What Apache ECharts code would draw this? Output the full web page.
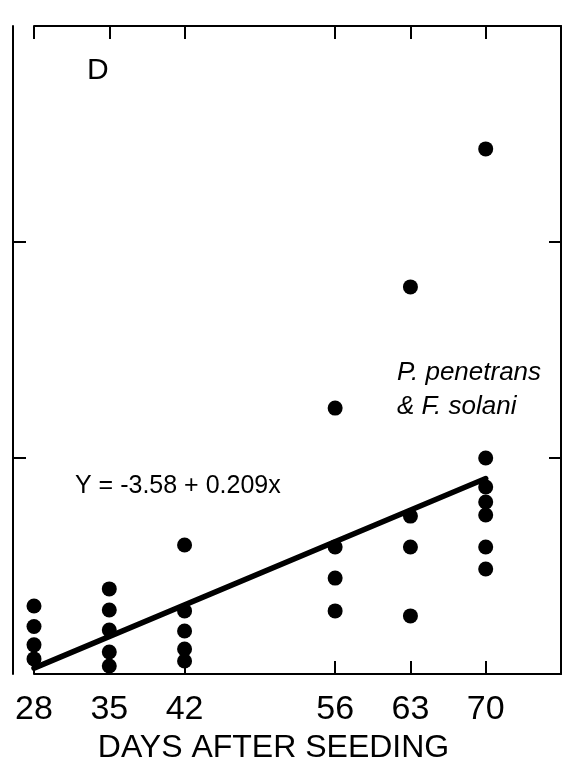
<!DOCTYPE html>
<html>
<head>
<meta charset="utf-8">
<script src="https://cdn.jsdelivr.net/npm/echarts@6/dist/echarts.min.js"></script>
<style>
  html, body { margin: 0; padding: 0; background: #fff; }
  #chart { width: 568px; height: 776px; }
</style>
</head>
<body>
<div id="chart"></div>
<script>
// Sampling days (x axis ticks)
const days = [28, 35, 42, 56, 63, 70];

// Observations per sampling day
const day28 = [5.15, 4.2, 3.35, 2.7];
const day35 = [5.94, 4.96, 4.04, 3.02, 2.37];
const day42 = [7.97, 4.92, 3.99, 3.16, 2.6];
const day56 = [14.31, 7.88, 6.44, 4.92];
const day63 = [19.92, 9.31, 7.88, 4.69];
const day70 = [26.31, 12.0, 10.66, 9.96, 9.36, 7.88, 6.86];

// Fitted regression: Y = a + b x
const intercept = -3.58;
const slope = 0.209;

const yTicks = [12, 22];
const fitLabel = 'Y = -3.58 + 0.209x';
const panelLabel = 'D';
const treatmentLines = ['P. penetrans', '& F. solani'];
const xName = 'DAYS AFTER SEEDING';

const groups = [day28, day35, day42, day56, day63, day70];
const points = [];
groups.forEach((vals, i) => vals.forEach(v => points.push([days[i], v])));

const fitLine = [
  [days[0], intercept + slope * days[0]],
  [days[days.length - 1], intercept + slope * days[days.length - 1]]
];

const FONT = '"Liberation Sans", Arial, Helvetica, sans-serif';
const axisLine = { show: true, lineStyle: { color: '#000', width: 2 } };

const chart = echarts.init(document.getElementById('chart'), null, { renderer: 'canvas' });
chart.setOption({
  backgroundColor: '#fff',
  animation: false,
  grid: { left: 34, right: 7, top: 26, bottom: 102 },
  xAxis: [
    {
      type: 'value', position: 'bottom', min: 28, max: 77,
      axisLine: axisLine,
      axisTick: { show: true, inside: true, length: 13, customValues: days,
                  lineStyle: { color: '#000', width: 2 } },
      axisLabel: { show: true, customValues: days, margin: 19,
                   color: '#000', fontSize: 34, fontFamily: FONT },
      splitLine: { show: false },
      name: xName, nameLocation: 'middle', nameGap: 58,
      nameTextStyle: { color: '#000', fontSize: 32, fontFamily: FONT,
                       padding: [0, 48, 0, 0] }
    },
    {
      type: 'value', position: 'top', min: 28, max: 77,
      axisLine: axisLine,
      axisTick: { show: true, inside: true, length: 13, customValues: days,
                  lineStyle: { color: '#000', width: 2 } },
      axisLabel: { show: false },
      splitLine: { show: false }
    }
  ],
  yAxis: [
    {
      type: 'value', position: 'left', offset: 21, min: 2, max: 32,
      axisLine: axisLine,
      axisTick: { show: true, inside: true, length: 13, customValues: yTicks,
                  lineStyle: { color: '#000', width: 2 } },
      axisLabel: { show: false },
      splitLine: { show: false }
    },
    {
      type: 'value', position: 'right', min: 2, max: 32,
      axisLine: axisLine,
      axisTick: { show: true, inside: true, length: 12, customValues: yTicks,
                  lineStyle: { color: '#000', width: 2 } },
      axisLabel: { show: false },
      splitLine: { show: false }
    }
  ],
  series: [
    {
      type: 'line', data: fitLine, xAxisIndex: 0, yAxisIndex: 0,
      symbol: 'none', silent: true,
      lineStyle: { color: '#000', width: 5.5, cap: 'round' }, z: 2
    },
    {
      type: 'scatter', data: points, xAxisIndex: 0, yAxisIndex: 0,
      symbol: 'circle', symbolSize: 15,
      itemStyle: { color: '#000', opacity: 1 }, z: 3
    }
  ],
  graphic: [
    { type: 'text', left: 87, top: 56,
      style: { text: panelLabel, fill: '#000', fontSize: 30, fontFamily: FONT } },
    { type: 'text', left: 75, top: 474,
      style: { text: fitLabel, fill: '#000', fontSize: 25, fontFamily: FONT } },
    { type: 'text', left: 397, top: 360,
      style: { text: treatmentLines[0], fill: '#000', fontSize: 26, fontStyle: 'italic', fontFamily: FONT } },
    { type: 'text', left: 397, top: 394,
      style: { text: treatmentLines[1], fill: '#000', fontSize: 26, fontStyle: 'italic', fontFamily: FONT } }
  ]
});
</script>
</body>
</html>
